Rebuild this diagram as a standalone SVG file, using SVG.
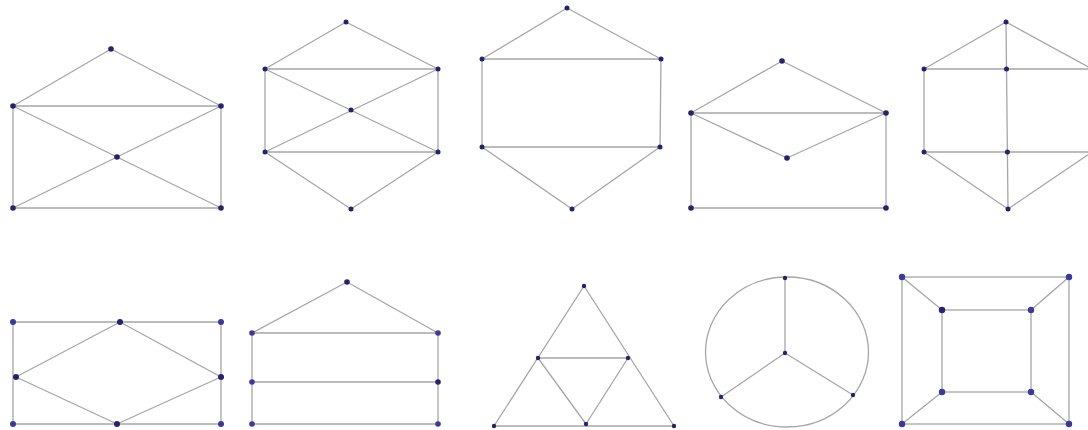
<svg xmlns="http://www.w3.org/2000/svg" width="1088" height="430" viewBox="0 0 1088 430">
<style>
.e{stroke:#a6a6a6;stroke-width:1.3;fill:none;stroke-linecap:round}
.n{fill:#24236e}
.b{fill:#3a3a9a}
</style>
<rect width="1088" height="430" fill="#ffffff"/>
<!-- Graph 1 -->
<g id="graph1">
<g id="g1-edges" class="e">
<line x1="111" y1="49" x2="13" y2="106"/><line x1="111" y1="49" x2="221" y2="106"/>
<line x1="13" y1="106" x2="221" y2="106"/>
<line x1="13" y1="106" x2="13" y2="208"/><line x1="221" y1="106" x2="221" y2="208"/>
<line x1="13" y1="208" x2="221" y2="208"/>
<line x1="13" y1="106" x2="221" y2="208"/><line x1="221" y1="106" x2="13" y2="208"/>
</g>
<g id="g1-n1"><circle class="n" cx="111" cy="49" r="2.8"/></g>
<g id="g1-n2"><circle class="n" cx="13" cy="106" r="2.8"/></g>
<g id="g1-n3"><circle class="n" cx="221" cy="106" r="2.8"/></g>
<g id="g1-n4"><circle class="n" cx="117" cy="157" r="2.8"/></g>
<g id="g1-n5"><circle class="n" cx="13" cy="208" r="2.8"/></g>
<g id="g1-n6"><circle class="n" cx="221" cy="208" r="2.8"/></g>
</g>
<!-- Graph 2 -->
<g id="graph2">
<g id="g2-edges" class="e">
<line x1="346" y1="22" x2="265" y2="69"/><line x1="346" y1="22" x2="438" y2="69"/>
<line x1="265" y1="69" x2="438" y2="69"/>
<line x1="265" y1="69" x2="265" y2="152"/><line x1="438" y1="69" x2="438" y2="152"/>
<line x1="265" y1="152" x2="438" y2="152"/>
<line x1="265" y1="69" x2="438" y2="152"/><line x1="438" y1="69" x2="265" y2="152"/>
<line x1="265" y1="152" x2="351" y2="209"/><line x1="438" y1="152" x2="351" y2="209"/>
</g>
<g id="g2-n1"><circle class="n" cx="346" cy="22" r="2.5"/></g>
<g id="g2-n2"><circle class="n" cx="265" cy="69" r="2.5"/></g>
<g id="g2-n3"><circle class="n" cx="438" cy="69" r="2.5"/></g>
<g id="g2-n4"><circle class="n" cx="351" cy="110" r="2.5"/></g>
<g id="g2-n5"><circle class="n" cx="265" cy="152" r="2.5"/></g>
<g id="g2-n6"><circle class="n" cx="438" cy="152" r="2.5"/></g>
<g id="g2-n7"><circle class="n" cx="351" cy="209" r="2.5"/></g>
</g>
<!-- Graph 3 -->
<g id="graph3">
<g id="g3-edges" class="e">
<line x1="567" y1="8" x2="482" y2="59"/><line x1="567" y1="8" x2="661" y2="59"/>
<line x1="482" y1="59" x2="661" y2="59"/>
<line x1="482" y1="59" x2="482" y2="147"/><line x1="661" y1="59" x2="660" y2="147"/>
<line x1="482" y1="147" x2="660" y2="147"/>
<line x1="482" y1="147" x2="572" y2="209"/><line x1="660" y1="147" x2="572" y2="209"/>
</g>
<g id="g3-n1"><circle class="n" cx="567" cy="8" r="2.5"/></g>
<g id="g3-n2"><circle class="n" cx="482" cy="59" r="2.5"/></g>
<g id="g3-n3"><circle class="n" cx="661" cy="59" r="2.5"/></g>
<g id="g3-n4"><circle class="n" cx="482" cy="147" r="2.5"/></g>
<g id="g3-n5"><circle class="n" cx="660" cy="147" r="2.5"/></g>
<g id="g3-n6"><circle class="n" cx="572" cy="209" r="2.5"/></g>
</g>
<!-- Graph 4 -->
<g id="graph4">
<g id="g4-edges" class="e">
<line x1="782" y1="61" x2="691" y2="113"/><line x1="782" y1="61" x2="886" y2="113"/>
<line x1="691" y1="113" x2="886" y2="113"/>
<line x1="691" y1="113" x2="787" y2="158"/><line x1="886" y1="113" x2="787" y2="158"/>
<line x1="691" y1="113" x2="691" y2="208"/><line x1="886" y1="113" x2="886" y2="208"/>
<line x1="691" y1="208" x2="886" y2="208"/>
</g>
<g id="g4-n1"><circle class="n" cx="782" cy="61" r="2.8"/></g>
<g id="g4-n2"><circle class="n" cx="691" cy="113" r="2.8"/></g>
<g id="g4-n3"><circle class="n" cx="886" cy="113" r="2.8"/></g>
<g id="g4-n4"><circle class="n" cx="787" cy="158" r="2.8"/></g>
<g id="g4-n5"><circle class="n" cx="691" cy="208" r="2.8"/></g>
<g id="g4-n6"><circle class="n" cx="886" cy="208" r="2.8"/></g>
</g>
<!-- Graph 5 -->
<g id="graph5">
<g id="g5-edges" class="e">
<line x1="1006" y1="22" x2="924" y2="69"/><line x1="1006" y1="22" x2="1092" y2="69"/>
<line x1="924" y1="69" x2="1092" y2="69"/>
<line x1="924" y1="152" x2="1092" y2="152"/>
<line x1="924" y1="69" x2="924" y2="152"/>
<line x1="1006" y1="22" x2="1008" y2="209"/>
<line x1="924" y1="152" x2="1008" y2="209"/><line x1="1092" y1="152" x2="1008" y2="209"/>
</g>
<g id="g5-n1"><circle class="n" cx="1006" cy="22" r="2.5"/></g>
<g id="g5-n2"><circle class="n" cx="924" cy="69" r="2.5"/></g>
<g id="g5-n3"><circle class="n" cx="1006.5" cy="69" r="2.5"/></g>
<g id="g5-n4"><circle class="n" cx="924" cy="152" r="2.5"/></g>
<g id="g5-n5"><circle class="n" cx="1007.4" cy="152" r="2.5"/></g>
<g id="g5-n6"><circle class="n" cx="1008" cy="209" r="2.5"/></g>
</g>
<!-- Graph 6 -->
<g id="graph6">
<g id="g6-edges" class="e">
<line x1="13" y1="322" x2="221" y2="322"/>
<line x1="13" y1="424" x2="221" y2="424"/>
<line x1="13" y1="322" x2="13" y2="424"/><line x1="221" y1="322" x2="221" y2="424"/>
<line x1="120" y1="322" x2="16" y2="377"/><line x1="16" y1="377" x2="117" y2="424"/>
<line x1="117" y1="424" x2="221" y2="377"/><line x1="221" y1="377" x2="120" y2="322"/>
</g>
<g id="g6-n1"><circle class="b" cx="13" cy="322" r="3"/></g>
<g id="g6-n2"><circle class="n" cx="120" cy="322" r="3"/></g>
<g id="g6-n3"><circle class="b" cx="221" cy="322" r="3"/></g>
<g id="g6-n4"><circle class="n" cx="16" cy="377" r="3"/></g>
<g id="g6-n5"><circle class="n" cx="221" cy="377" r="3"/></g>
<g id="g6-n6"><circle class="b" cx="13" cy="424" r="3"/></g>
<g id="g6-n7"><circle class="n" cx="117" cy="424" r="3"/></g>
<g id="g6-n8"><circle class="b" cx="221" cy="424" r="3"/></g>
</g>
<!-- Graph 7 -->
<g id="graph7">
<g id="g7-edges" class="e">
<line x1="347" y1="282" x2="252" y2="333"/><line x1="347" y1="282" x2="438" y2="333"/>
<line x1="252" y1="333" x2="438" y2="333"/>
<line x1="252" y1="382" x2="438" y2="382"/>
<line x1="252" y1="424" x2="438" y2="424"/>
<line x1="252" y1="333" x2="252" y2="424"/><line x1="438" y1="333" x2="438" y2="424"/>
</g>
<g id="g7-n1"><circle class="n" cx="347" cy="282" r="2.8"/></g>
<g id="g7-n2"><circle class="b" cx="252" cy="333" r="2.8"/></g>
<g id="g7-n3"><circle class="b" cx="438" cy="333" r="2.8"/></g>
<g id="g7-n4"><circle class="b" cx="252" cy="382" r="2.8"/></g>
<g id="g7-n5"><circle class="n" cx="438" cy="382" r="2.8"/></g>
<g id="g7-n6"><circle class="b" cx="252" cy="424" r="2.8"/></g>
<g id="g7-n7"><circle class="b" cx="438" cy="424" r="2.8"/></g>
</g>
<!-- Graph 8 -->
<g id="graph8">
<g id="g8-edges" class="e">
<line x1="584" y1="286" x2="494" y2="426"/><line x1="584" y1="286" x2="674" y2="426"/>
<line x1="494" y1="426" x2="674" y2="426"/>
<line x1="538" y1="358" x2="628" y2="358"/>
<line x1="538" y1="358" x2="586" y2="424"/><line x1="628" y1="358" x2="586" y2="424"/>
</g>
<g id="g8-n1"><circle class="n" cx="584" cy="286" r="2.2"/></g>
<g id="g8-n2"><circle class="n" cx="538" cy="358" r="2.2"/></g>
<g id="g8-n3"><circle class="n" cx="628" cy="358" r="2.2"/></g>
<g id="g8-n4"><circle class="n" cx="494" cy="426" r="2.2"/></g>
<g id="g8-n5"><circle class="n" cx="586" cy="424" r="2.2"/></g>
<g id="g8-n6"><circle class="n" cx="674" cy="426" r="2.2"/></g>
</g>
<!-- Graph 9 -->
<g id="graph9">
<g id="g9-edges" class="e">
<ellipse cx="787" cy="352" rx="81.5" ry="75"/>
<line x1="785" y1="278" x2="785" y2="353"/>
<line x1="785" y1="353" x2="721" y2="397"/><line x1="785" y1="353" x2="853" y2="395"/>
</g>
<g id="g9-n1"><circle class="n" cx="785" cy="278" r="2.2"/></g>
<g id="g9-n2"><circle class="n" cx="785" cy="353" r="2.2"/></g>
<g id="g9-n3"><circle class="n" cx="721" cy="397" r="2.2"/></g>
<g id="g9-n4"><circle class="n" cx="853" cy="395" r="2.2"/></g>
</g>
<!-- Graph 10 -->
<g id="graph10">
<g id="g10-edges" class="e">
<rect x="902" y="277" width="167" height="147"/>
<rect x="942" y="310" width="89" height="82"/>
<line x1="902" y1="277" x2="942" y2="310"/><line x1="1069" y1="277" x2="1031" y2="310"/>
<line x1="902" y1="424" x2="942" y2="392"/><line x1="1069" y1="424" x2="1031" y2="392"/>
</g>
<g id="g10-n1"><circle class="b" cx="902" cy="277" r="3.2"/></g>
<g id="g10-n2"><circle class="b" cx="1069" cy="277" r="3.2"/></g>
<g id="g10-n3"><circle class="b" cx="902" cy="424" r="3.2"/></g>
<g id="g10-n4"><circle class="b" cx="1069" cy="424" r="3.2"/></g>
<g id="g10-n5"><circle class="n" cx="942" cy="310" r="3.2"/></g>
<g id="g10-n6"><circle class="b" cx="1031" cy="310" r="3.2"/></g>
<g id="g10-n7"><circle class="b" cx="942" cy="392" r="3.2"/></g>
<g id="g10-n8"><circle class="b" cx="1031" cy="392" r="3.2"/></g>
</g>
</svg>
